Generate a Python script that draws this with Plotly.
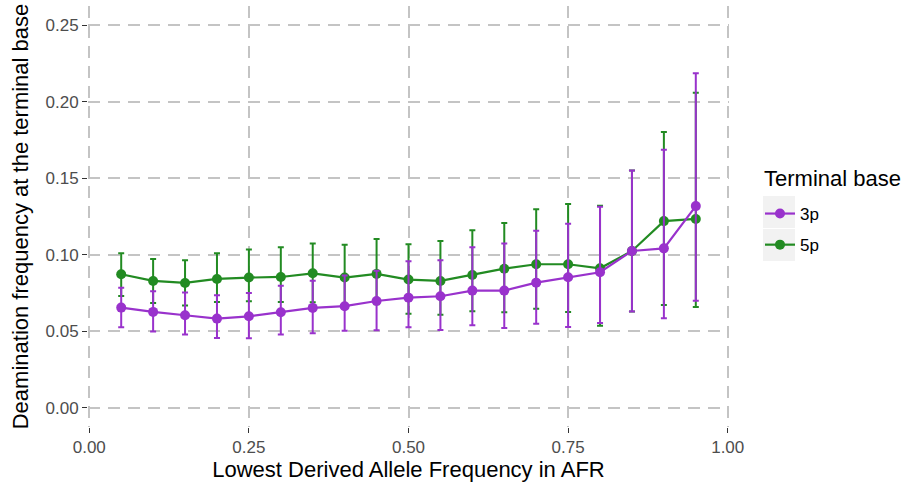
import plotly.graph_objects as go

x = [0.05, 0.10, 0.15, 0.20, 0.25, 0.30, 0.35, 0.40, 0.45, 0.50,
     0.55, 0.60, 0.65, 0.70, 0.75, 0.80, 0.85, 0.90, 0.95]

p3_mean = [0.0655, 0.0627, 0.0605, 0.0583, 0.0598, 0.0624, 0.0653, 0.0664, 0.0698, 0.0720,
           0.0729, 0.0766, 0.0766, 0.0818, 0.0853, 0.0886, 0.1025, 0.1042, 0.1318]
p3_low = [0.0527, 0.0498, 0.0479, 0.0457, 0.0455, 0.0479, 0.0487, 0.0503, 0.0507, 0.0527,
          0.0509, 0.0540, 0.0522, 0.0550, 0.0529, 0.0555, 0.0629, 0.0585, 0.0700]
p3_high = [0.0785, 0.0762, 0.0753, 0.0736, 0.0751, 0.0798, 0.0831, 0.0864, 0.0896, 0.0957,
           0.0964, 0.1049, 0.1073, 0.1157, 0.1203, 0.1314, 0.1550, 0.1686, 0.2185]

p5_mean = [0.0873, 0.0829, 0.0816, 0.0842, 0.0851, 0.0855, 0.0879, 0.0851, 0.0875, 0.0838,
           0.0829, 0.0868, 0.0909, 0.0938, 0.0938, 0.0912, 0.1025, 0.1220, 0.1234]
p5_low = [0.0731, 0.0685, 0.0668, 0.0692, 0.0696, 0.0692, 0.0690, 0.0661, 0.0677, 0.0614,
          0.0609, 0.0631, 0.0625, 0.0648, 0.0627, 0.0537, 0.0630, 0.0672, 0.0659]
p5_high = [0.1010, 0.0973, 0.0964, 0.1010, 0.1034, 0.1049, 0.1073, 0.1066, 0.1103, 0.1068,
           0.1090, 0.1160, 0.1208, 0.1297, 0.1332, 0.1320, 0.1550, 0.1802, 0.2058]

x_ticks = [0, 0.25, 0.5, 0.75, 1.0]
x_ticklabels = ["0.00", "0.25", "0.50", "0.75", "1.00"]
y_ticks = [0, 0.05, 0.10, 0.15, 0.20, 0.25]
y_ticklabels = ["0.00", "0.05", "0.10", "0.15", "0.20", "0.25"]

PURPLE = "#9932CC"
GREEN = "#228B22"


def trace(name, mean, low, high, color, rank):
    return go.Scatter(
        x=x, y=mean, name=name, mode="lines+markers",
        line=dict(color=color, width=2.2),
        marker=dict(color=color, size=10),
        legendrank=rank, legendgroup=name,
        error_y=dict(type="data", symmetric=False,
                     array=[h - m for h, m in zip(high, mean)],
                     arrayminus=[m - l for m, l in zip(mean, low)],
                     color=color, thickness=2, width=3),
    )


fig = go.Figure()
fig.add_trace(trace("5p", p5_mean, p5_low, p5_high, GREEN, 2))
fig.add_trace(trace("3p", p3_mean, p3_low, p3_high, PURPLE, 1))

grid = dict(showgrid=True, gridcolor="#C4C4C4", gridwidth=1.6, griddash="12px,8px",
            zeroline=False, showline=False, ticks="outside", ticklen=5,
            tickcolor="#333333", tickwidth=1.2,
            tickfont=dict(size=17, color="#4D4D4D"))

L, R, T, B = 88, 173, 6, 57
PW, PH = 902 - L - R, 484 - T - B


def px2paper_x(px):
    return (px - L) / PW


def px2paper_y(py):
    return (484 - B - py) / PH


shapes = []
for top in (196, 229):
    shapes.append(dict(type="rect", xref="paper", yref="paper",
                       x0=px2paper_x(763), x1=px2paper_x(795),
                       y0=px2paper_y(top + 32), y1=px2paper_y(top),
                       fillcolor="#F2F2F2", line=dict(width=0), layer="below"))

fig.update_layout(
    width=902, height=484,
    margin=dict(l=L, r=R, t=T, b=B),
    paper_bgcolor="white", plot_bgcolor="white",
    font=dict(family="Liberation Sans, Arial, sans-serif", color="black"),
    xaxis=dict(range=[-0.002, 1.002], tickvals=x_ticks, ticktext=x_ticklabels,
               title=dict(text="Lowest Derived Allele Frequency in AFR",
                          font=dict(size=22), standoff=4), **grid),
    yaxis=dict(range=[-0.0125, 0.2625], tickvals=y_ticks, ticktext=y_ticklabels,
               title=dict(text="Deamination frequency at the terminal base",
                          font=dict(size=22), standoff=10), **grid),
    legend=dict(font=dict(size=17), x=px2paper_x(760), xanchor="left",
                y=px2paper_y(196), yanchor="top",
                itemwidth=30, tracegroupgap=6, bgcolor="rgba(0,0,0,0)"),
    annotations=[dict(text="Terminal base", xref="paper", yref="paper",
                      x=px2paper_x(762), y=px2paper_y(178), xanchor="left",
                      yanchor="middle", showarrow=False, font=dict(size=22))],
    shapes=shapes,
    showlegend=True,
)

fig.write_html("out.html")
